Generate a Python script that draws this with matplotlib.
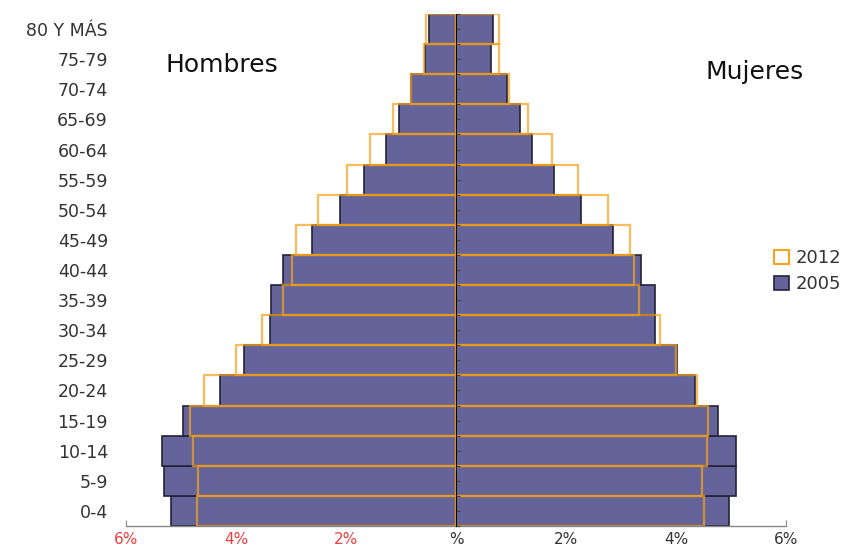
import matplotlib
matplotlib.use("Agg")
import matplotlib.pyplot as plt
from matplotlib.patches import Patch
import numpy as np

# list is bottom -> top
groups = ["0-4", "5-9", "10-14", "15-19", "20-24", "25-29", "30-34", "35-39",
          "40-44", "45-49", "50-54", "55-59", "60-64", "65-69", "70-74",
          "75-79", "80 Y MÁS"]
hombres_2005 = [5.18, 5.31, 5.35, 4.96, 4.30, 3.85, 3.39, 3.37, 3.14, 2.62,
                2.11, 1.67, 1.28, 1.04, 0.81, 0.56, 0.50]
hombres_2012 = [4.71, 4.69, 4.79, 4.84, 4.59, 4.00, 3.52, 3.14, 2.99, 2.91,
                2.51, 1.99, 1.56, 1.14, 0.82, 0.58, 0.55]
mujeres_2005 = [4.96, 5.09, 5.09, 4.76, 4.35, 4.01, 3.61, 3.62, 3.37, 2.85,
                2.28, 1.79, 1.38, 1.16, 0.92, 0.64, 0.67]
mujeres_2012 = [4.51, 4.48, 4.56, 4.59, 4.39, 4.00, 3.70, 3.32, 3.24, 3.16,
                2.77, 2.21, 1.74, 1.30, 0.97, 0.78, 0.79]
xticks = [-6, -4, -2, 0, 2, 4, 6]
xtick_labels = ["6%", "4%", "2%", "%", "2%", "4%", "6%"]

purple = "#64649A"
dark_edge = "#23233A"
orange = (0.97, 0.64, 0.11, 0.72)

fig = plt.figure(figsize=(8.63, 5.52), dpi=100)
ax = fig.add_axes([126/863, 1-526/552, 660/863, 512/552])

y = np.arange(len(groups))
ax.barh(y, -np.array(hombres_2005), height=1.0, color=purple,
        edgecolor=dark_edge, linewidth=1.2, zorder=2)
ax.barh(y, mujeres_2005, height=1.0, color=purple,
        edgecolor=dark_edge, linewidth=1.2, zorder=2)
ax.barh(y, -np.array(hombres_2012), height=1.0, fill=False,
        edgecolor=orange, linewidth=1.6, zorder=3)
ax.barh(y, mujeres_2012, height=1.0, fill=False,
        edgecolor=orange, linewidth=1.6, zorder=3)

ax.set_xlim(-6, 6)
ax.set_ylim(-0.5, len(groups) - 0.5)

ax.set_yticks(y)
ax.set_yticklabels(groups, fontsize=12.5, color="#333333",
                   family="DejaVu Sans")
ax.tick_params(axis="y", length=0, pad=13)

ax.set_xticks(xticks)
ax.set_xticklabels(xtick_labels, fontsize=11, family="DejaVu Sans")
for lbl, v in zip(ax.get_xticklabels(), xticks):
    lbl.set_color("#F03C3C" if v < 0 else "#333333")
ax.tick_params(axis="x", direction="in", length=4, color="#888888",
               pad=4)

for s in ["top", "right", "left"]:
    ax.spines[s].set_visible(False)
ax.spines["bottom"].set_color("#888888")
ax.spines["bottom"].set_linewidth(1.0)

# center axis line with small ticks
sec = ax.secondary_yaxis(0.5)
sec.set_yticks(np.arange(-0.5, len(groups), 0.5))
sec.set_yticklabels([])
sec.tick_params(axis="y", direction="out", length=3, color="#5A3A1A",
                width=0.8)
sec.spines["left"].set_color("#8B5A1E")
sec.spines["left"].set_linewidth(1.4)
sec.set_zorder(4)

fig.text(165/863, 1-65/552, "Hombres", fontsize=18, family="DejaVu Sans",
         va="center", ha="left", color="#111111")
fig.text(705/863, 1-72/552, "Mujeres", fontsize=18, family="DejaVu Sans",
         va="center", ha="left", color="#111111")

handles = [Patch(facecolor="white", edgecolor=(0.97, 0.64, 0.11), linewidth=1.5),
           Patch(facecolor=purple, edgecolor=dark_edge, linewidth=1.2)]
fig.legend(handles, ["2012", "2005"], loc="center left",
           bbox_to_anchor=(758/863, 1-271/552), frameon=False,
           prop={"family": "DejaVu Sans", "size": 13},
           handlelength=0.8, handleheight=0.8, handletextpad=0.4,
           labelspacing=0.45, labelcolor="#333333")

fig.savefig("out.png", dpi=100, facecolor="white")
